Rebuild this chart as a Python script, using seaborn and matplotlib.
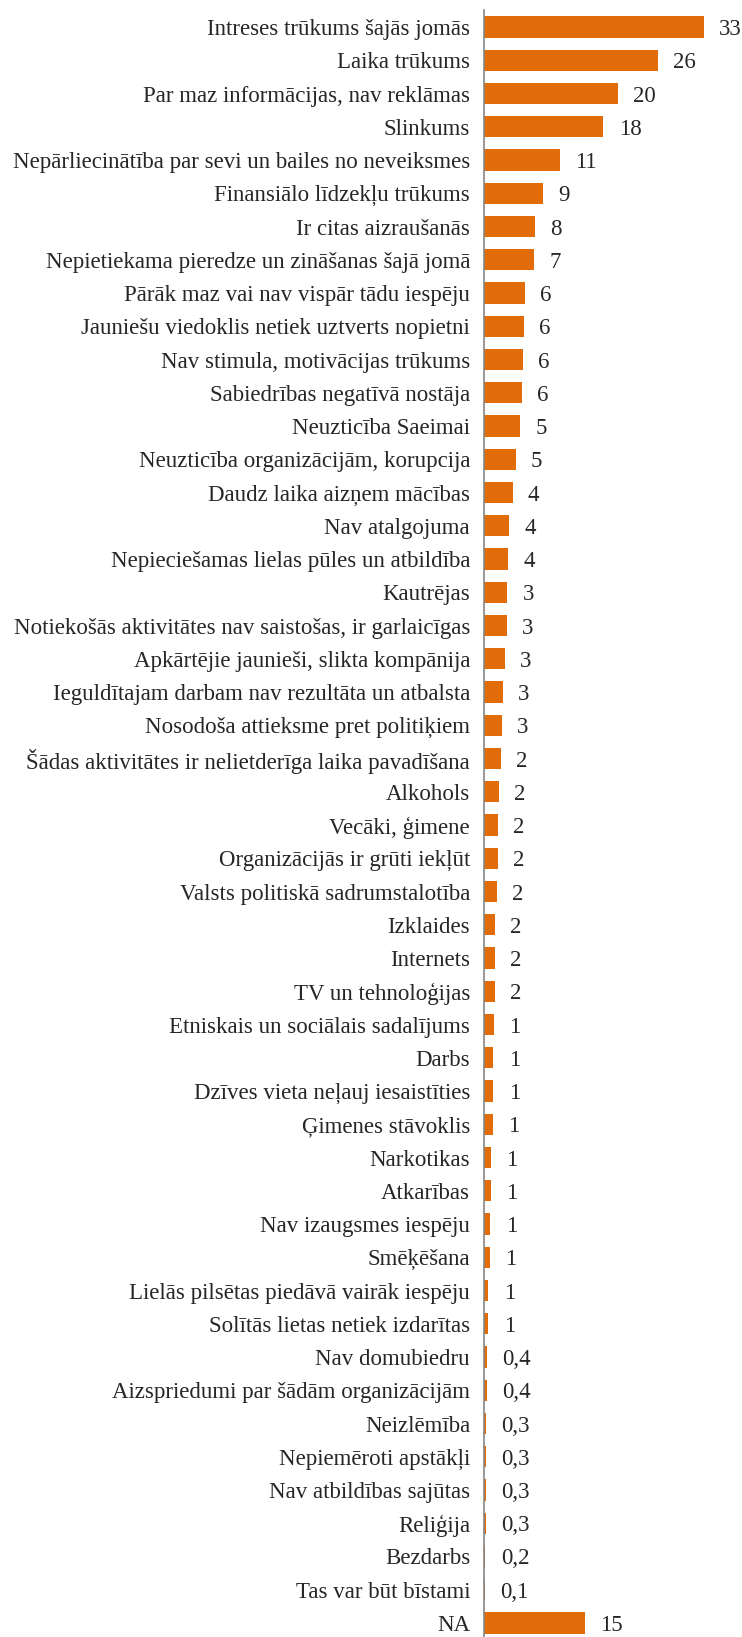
import matplotlib
matplotlib.use("Agg")
import matplotlib.pyplot as plt
import seaborn as sns

categories = [
    "Intreses trūkums šajās jomās",
    "Laika trūkums",
    "Par maz informācijas, nav reklāmas",
    "Slinkums",
    "Nepārliecinātība par sevi un bailes no neveiksmes",
    "Finansiālo līdzekļu trūkums",
    "Ir citas aizraušanās",
    "Nepietiekama pieredze un zināšanas šajā jomā",
    "Pārāk maz vai nav vispār tādu iespēju",
    "Jauniešu viedoklis netiek uztverts nopietni",
    "Nav stimula, motivācijas trūkums",
    "Sabiedrības negatīvā nostāja",
    "Neuzticība Saeimai",
    "Neuzticība organizācijām, korupcija",
    "Daudz laika aizņem mācības",
    "Nav atalgojuma",
    "Nepieciešamas lielas pūles un atbildība",
    "Kautrējas",
    "Notiekošās aktivitātes nav saistošas, ir garlaicīgas",
    "Apkārtējie jaunieši, slikta kompānija",
    "Ieguldītajam darbam nav rezultāta un atbalsta",
    "Nosodoša attieksme pret politiķiem",
    "Šādas aktivitātes ir nelietderīga laika pavadīšana",
    "Alkohols",
    "Vecāki, ģimene",
    "Organizācijās ir grūti iekļūt",
    "Valsts politiskā sadrumstalotība",
    "Izklaides",
    "Internets",
    "TV un tehnoloģijas",
    "Etniskais un sociālais sadalījums",
    "Darbs",
    "Dzīves vieta neļauj iesaistīties",
    "Ģimenes stāvoklis",
    "Narkotikas",
    "Atkarības",
    "Nav izaugsmes iespēju",
    "Smēķēšana",
    "Lielās pilsētas piedāvā vairāk iespēju",
    "Solītās lietas netiek izdarītas",
    "Nav domubiedru",
    "Aizspriedumi par šādām organizācijām",
    "Neizlēmība",
    "Nepiemēroti apstākļi",
    "Nav atbildības sajūtas",
    "Reliģija",
    "Bezdarbs",
    "Tas var būt bīstami",
    "NA",
]

values = [32.6, 25.8, 19.8, 17.7, 11.2, 8.8, 7.6, 7.45, 6.1, 5.9, 5.8, 5.6,
          5.4, 4.7, 4.25, 3.7, 3.6, 3.45, 3.4, 3.1, 2.8, 2.65, 2.45, 2.2,
          2.1, 2.0, 1.9, 1.6, 1.6, 1.6, 1.45, 1.4, 1.4, 1.3, 1.05, 1.05,
          0.95, 0.85, 0.65, 0.65, 0.45, 0.4, 0.3, 0.3, 0.3, 0.3, 0.2, 0.1,
          15.0]

value_labels = ["33", "26", "20", "18", "11", "9", "8", "7", "6", "6", "6", "6",
                "5", "5", "4", "4", "4", "3", "3", "3", "3", "3", "2", "2",
                "2", "2", "2", "2", "2", "2", "1", "1", "1", "1", "1", "1",
                "1", "1", "1", "1", "0,4", "0,4", "0,3", "0,3", "0,3", "0,3",
                "0,2", "0,1", "15"]

ORANGE = "#E36C0A"
AXIS_GRAY = "#868686"
FS = 16.5

sns.set_style("white")
plt.rcParams["font.family"] = ["Liberation Serif", "DejaVu Serif"]

fig = plt.figure(figsize=(7.42, 16.37), dpi=100)
# axis line sits at x=484px; the bottom of the plot runs just past the image edge
ax = fig.add_axes([484 / 742, -0.0016, 35 * 6.75 / 742, 0.99523])

sns.barplot(x=values, y=categories, orient="h", color=ORANGE, saturation=1,
            width=0.64, linewidth=0, ax=ax)

ax.set_xlim(0, 35)
ax.set_ylim(len(categories) - 0.5, -0.5)

texts = ax.bar_label(ax.containers[0], labels=value_labels, padding=11, fontsize=FS)
for t in texts:
    t.set_va("center_baseline")

for side in ["top", "right", "bottom"]:
    ax.spines[side].set_visible(False)
ax.spines["left"].set_color(AXIS_GRAY)
ax.spines["left"].set_linewidth(1.2)

ax.set_xticks([])
ax.set_xlabel("")
ax.set_ylabel("")
ax.tick_params(axis="y", which="major", length=0, pad=10, labelsize=FS)
ax.set_yticks([i + 0.5 for i in range(-1, len(categories))], minor=True)
ax.tick_params(axis="y", which="minor", length=5, width=1.2, color=AXIS_GRAY,
               direction="out")

fig.savefig("out.png", dpi=100)
